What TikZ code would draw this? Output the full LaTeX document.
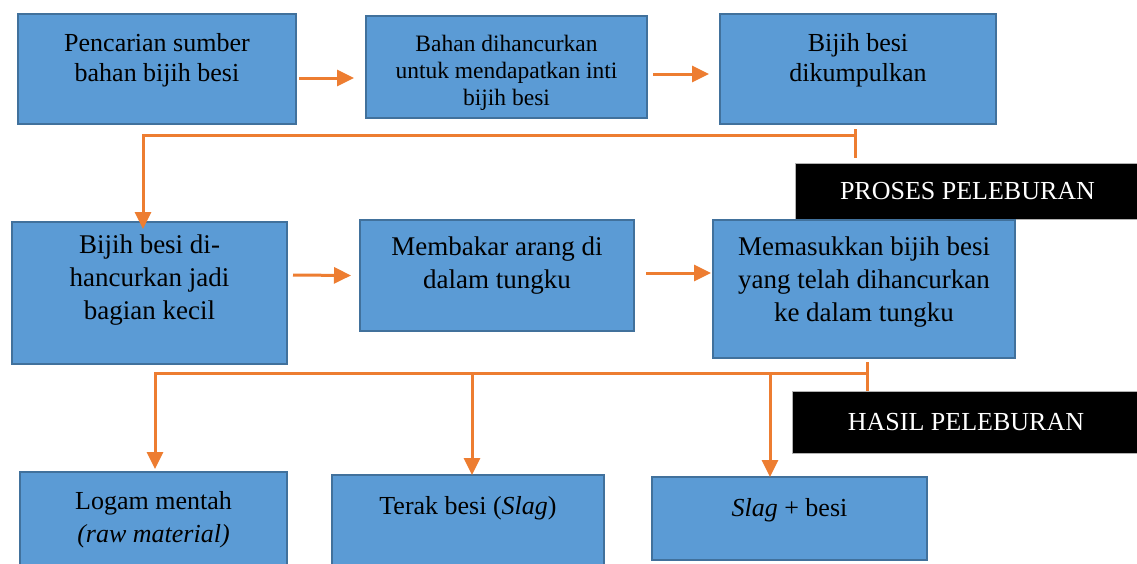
\documentclass[tikz,border=0pt]{standalone}
\usepackage{fontspec}
\setmainfont{Liberation Serif}
\usetikzlibrary{arrows.meta,calc}
\definecolor{boxfill}{HTML}{5B9BD5}
\definecolor{boxline}{HTML}{41719C}
\definecolor{arrcol}{HTML}{ED7D31}
\tikzset{
  box/.style={draw=boxline, fill=boxfill, line width=2pt, inner sep=0pt},
  blackbox/.style={draw=gray!60, fill=black, line width=1pt, inner sep=0pt, text=white,
    font=\fontsize{26}{30}\selectfont},
  txt/.style={inner sep=0pt, align=center, font=\fontsize{26}{30}\selectfont},
  conn/.style={draw=arrcol, line width=3pt},
  arr/.style={conn, -{Triangle[length=17pt,width=16pt]}}
}
\begin{document}
\begin{tikzpicture}[x=1pt,y=-1pt]
\useasboundingbox (0,0) rectangle (1137,563);
% row 1
\node[box, minimum width=278pt, minimum height=110pt] (b1) at (157,69) {};
\node[box, minimum width=281pt, minimum height=102pt] (b2) at (506.5,67) {};
\node[box, minimum width=276pt, minimum height=110pt] (b3) at (858,69) {};
\node[txt, anchor=north] (b1t) at (157,33) {Pencarian sumber\\bahan bijih besi};
\node[txt, anchor=north, font=\fontsize{23.5}{27}\selectfont] (b2t) at (506.5,35) {Bahan dihancurkan\\untuk mendapatkan inti\\bijih besi};
\node[txt, anchor=north] (b3t) at (858,33) {Bijih besi\\dikumpulkan};
\node[blackbox, minimum width=345pt, minimum height=56pt] (proses) at (967.5,191) {PROSES PELEBURAN};
% row 2
\node[box, minimum width=275pt, minimum height=142pt] (b4) at (149.5,293) {};
\node[box, minimum width=274pt, minimum height=111pt] (b5) at (497,275.5) {};
\node[box, minimum width=302pt, minimum height=138pt] (b6) at (864,289) {};
\node[txt, anchor=north, font=\fontsize{27}{33}\selectfont] (b4t) at (149.5,235) {Bijih besi di-\\hancurkan jadi\\bagian kecil};
\node[txt, anchor=north, font=\fontsize{27}{33}\selectfont] (b5t) at (497,237) {Membakar arang di\\dalam tungku};
\node[txt, anchor=north, font=\fontsize{27}{33}\selectfont] (b6t) at (864,237) {Memasukkan bijih besi\\yang telah dihancurkan\\ke dalam tungku};
\node[blackbox, minimum width=348pt, minimum height=62pt] (hasil) at (966,422) {HASIL PELEBURAN};
% row 3
\node[box, minimum width=267pt, minimum height=128pt] (b7) at (153.5,536) {};
\node[box, minimum width=272pt, minimum height=125pt] (b8) at (468,537.5) {};
\node[box, minimum width=275pt, minimum height=83pt] (b9) at (789.5,518.5) {};
\node[txt, anchor=north, font=\fontsize{26}{33}\selectfont] (b7t) at (153.5,491) {Logam mentah\\\textit{(raw material)}};
\node[txt, anchor=north] (b8t) at (468,496) {Terak besi (\textit{Slag})};
\node[txt, anchor=north] (b9t) at (789.5,498) {\textit{Slag} + besi};
% arrows row 1
\draw[arr] ($(b1.east)+(2,9)$) -- ($(b2.west)+(-11,11)$);
\draw[arr] ($(b2.east)+(5,7)$) -- ($(b3.west)+(-10,5)$);
% connector row 1 -> row 2
\coordinate (j1) at (855,135);
\draw[conn] ($(b3.south)+(-3,4)$) -- ($(proses.north)+(-112.5,-5)$);
\draw[arr] (j1) -| ($(b4.north)+(-6.5,8)$);
% arrows row 2
\draw[arr] ($(b4.east)+(5,-18)$) -- ($(b5.west)+(-8,0)$);
\draw[arr] ($(b5.east)+(11,-2.5)$) -- ($(b6.west)+(-1,-16)$);
% connector row 2 -> row 3
\coordinate (j2) at (867,373);
\draw[conn] ($(b6.south)+(3,3)$) -- ($(hasil.north)+(-99,0)$);
\coordinate (k1) at ($(b7.north)+(1.5,-2)$);
\coordinate (k2) at ($(b8.north)+(4,1)$);
\coordinate (k3) at ($(b9.north)+(-19.5,1)$);
\draw[arr] (j2) -| (k1);
\draw[arr] (k2 |- j2) -- (k2);
\draw[arr] (k3 |- j2) -- (k3);
\end{tikzpicture}
\end{document}
